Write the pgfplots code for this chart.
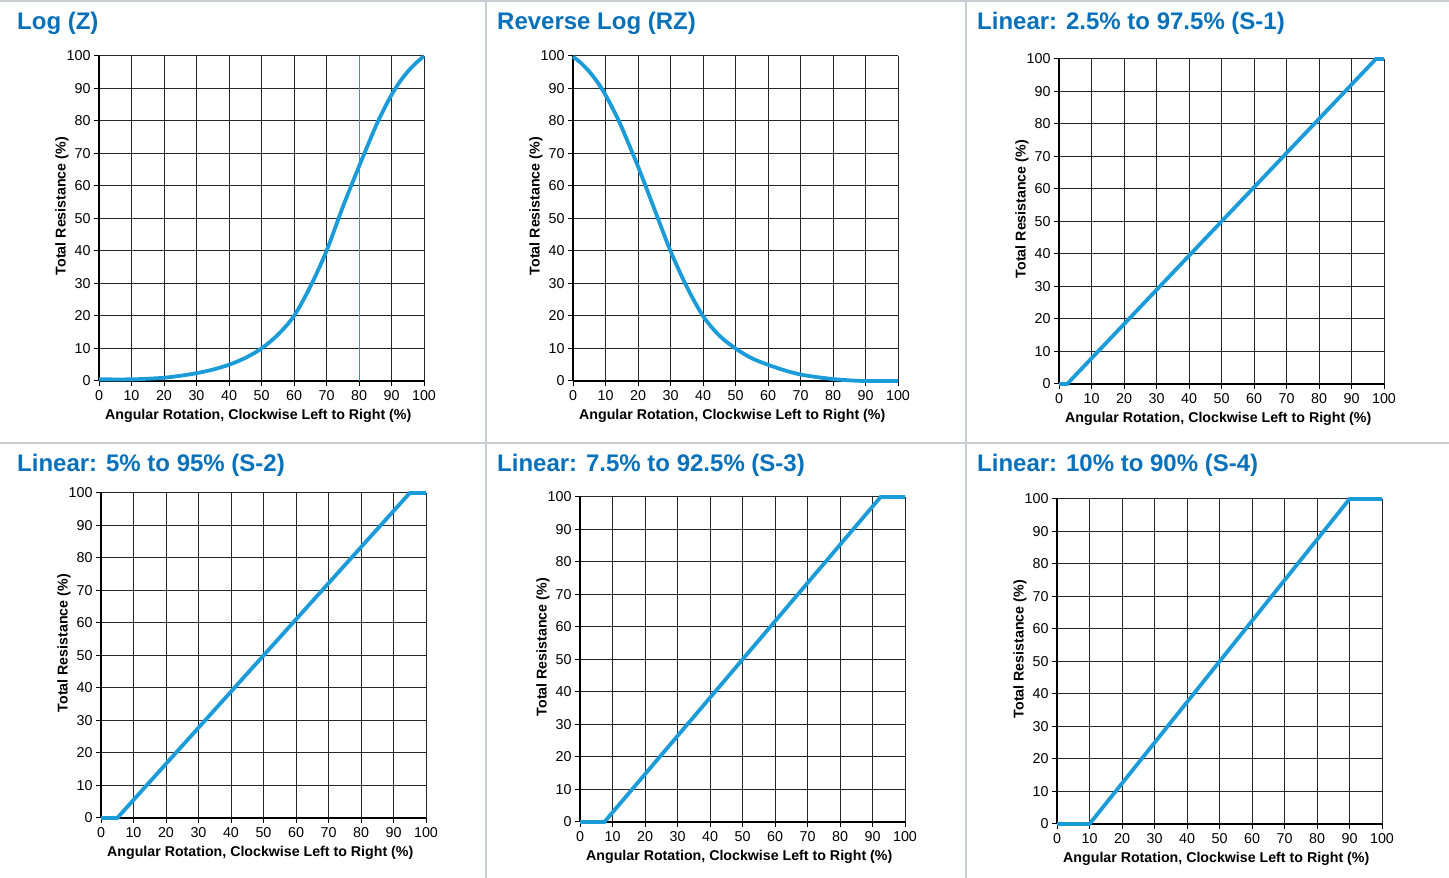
\documentclass[border=0pt]{standalone}
\usepackage{fontspec}
\setmainfont{Liberation Sans}
\usepackage{pgfplots}
\pgfplotsset{compat=1.18}

\definecolor{curve}{RGB}{27,155,215}
\definecolor{ttl}{RGB}{8,113,186}
\definecolor{sep}{RGB}{200,205,211}

% common look of the six taper panels
\pgfplotsset{
  taper/.style={
    anchor=south west, scale only axis, width=325pt, height=325pt,
    xmin=0, xmax=100, ymin=0, ymax=100,
    xtick={0,10,...,100}, ytick={0,10,...,100},
    axis x line*=bottom, axis y line*=left,
    axis line style={line width=2pt, black, -},
    grid=major, major grid style={line width=1pt, black!85},
    tick align=outside, major tick length=5pt,
    tick style={line width=1pt, black},
    ticklabel style={font=\fontsize{14.3}{15}\selectfont},
    xticklabel style={yshift=-1pt},
    /pgf/number format/assume math mode=true,
    xlabel={Angular Rotation, Clockwise Left to Right (\%)},
    ylabel={Total Resistance (\%)},
    label style={font=\bfseries\fontsize{14.2}{15}\selectfont},
    xlabel style={at={(axis description cs:0.49,-0.108)}, anchor=center},
    ylabel style={at={(axis description cs:-0.114,0.538)}, anchor=center},
    clip=false,
  },
}
\tikzset{
  crv/.style={curve, line width=3.8pt},
  ttlnode/.style={anchor=base west, text=ttl, inner sep=0pt, font=\bfseries\fontsize{24}{26}\selectfont},
}

\begin{document}
\begin{tikzpicture}
\useasboundingbox (0pt,0pt) rectangle (1449pt,878pt);

% panel separators
\fill[sep] (0pt,876pt) rectangle (1449pt,878pt);
\fill[sep] (0pt,434pt) rectangle (1449pt,436pt);
\fill[sep] (485pt,0pt) rectangle (487pt,878pt);
\fill[sep] (965pt,0pt) rectangle (967pt,878pt);

% Log (Z)
\node[ttlnode] at (17pt,848pt) {Log (Z)};
\begin{axis}[taper, at={(99pt,497pt)}]
  \addplot[curve, line width=0.6pt] coordinates {(80,0) (80,100)};
  \addplot[crv, smooth] coordinates {
    (0,0.5) (10,0.5) (15,0.7) (20,1) (25,1.6) (30,2.4) (35,3.5) (40,5)
    (45,7.1) (50,10) (55,14.2) (60,20) (65,29) (70,40) (75,53.5) (80,66)
    (85,78) (87.5,83.3) (90,88) (92.5,92) (95,95.2) (97.5,97.8) (100,100)};
\end{axis}

% Reverse Log (RZ)
\node[ttlnode] at (497pt,848pt) {Reverse Log (RZ)};
\begin{axis}[taper, at={(573pt,497pt)}]
  \addplot[crv, smooth] coordinates {
    (0,99.8) (2.5,97.8) (5,95.2) (7.5,92) (10,88) (12.5,83.3) (15,78)
    (20,66) (25,53) (30,40) (35,29) (40,20) (45,14) (50,10) (55,7)
    (60,5) (65,3.3) (70,2) (75,1.2) (80,0.6) (85,0.2) (90,0) (100,0)};
\end{axis}

% Linear S-1
\node[ttlnode] at (977pt,848pt) {Linear: 2.5\% to 97.5\% (S-1)};
\begin{axis}[taper, at={(1059pt,494pt)}]
  \addplot[crv] coordinates {(0,0) (2.5,0) (97.5,100) (100,100)};
\end{axis}

% Linear S-2
\node[ttlnode] at (17pt,406pt) {Linear: 5\% to 95\% (S-2)};
\begin{axis}[taper, at={(101pt,60pt)}]
  \addplot[crv] coordinates {(0,0) (5,0) (95,100) (100,100)};
\end{axis}

% Linear S-3
\node[ttlnode] at (497pt,406pt) {Linear: 7.5\% to 92.5\% (S-3)};
\begin{axis}[taper, at={(580pt,56pt)}]
  \addplot[crv] coordinates {(0,0) (7.5,0) (92.5,100) (100,100)};
\end{axis}

% Linear S-4
\node[ttlnode] at (977pt,406pt) {Linear: 10\% to 90\% (S-4)};
\begin{axis}[taper, at={(1057pt,54pt)}]
  \addplot[crv] coordinates {(0,0) (10,0) (90,100) (100,100)};
\end{axis}
\end{tikzpicture}
\end{document}
